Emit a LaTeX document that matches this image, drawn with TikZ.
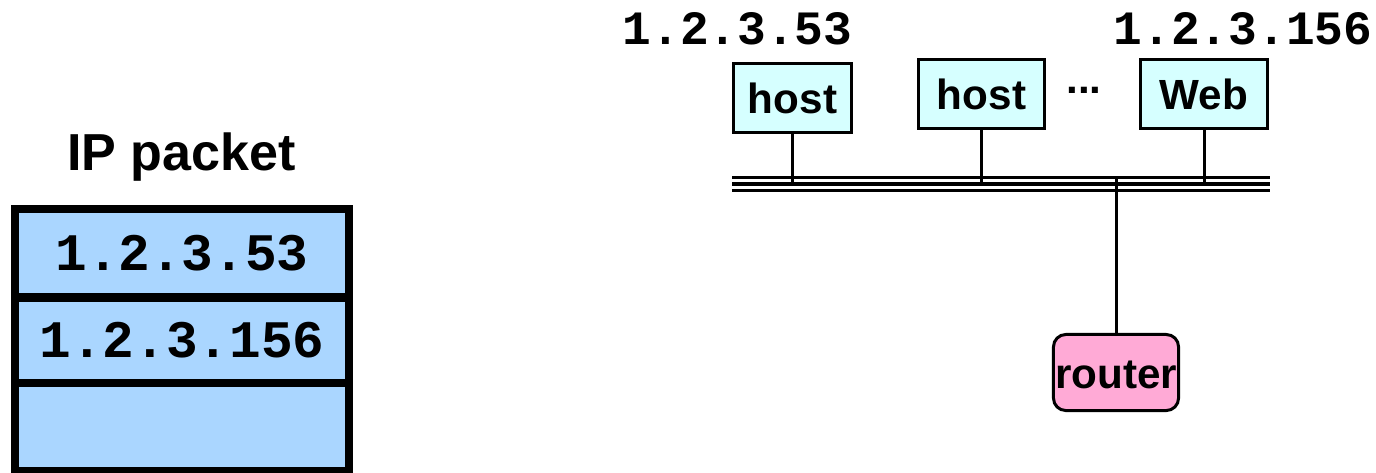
\documentclass[tikz,border=0pt]{standalone}
\usepackage{fontspec}
\setmainfont{Liberation Sans}
\newfontfamily\addrfont{Liberation Mono}
\usetikzlibrary{positioning}
\definecolor{packetblue}{RGB}{170,214,255}
\definecolor{hostcyan}{RGB}{214,255,255}
\definecolor{routerpink}{RGB}{255,170,214}
\tikzset{
    %Define style for host boxes
    hostbox/.style={
           rectangle,
           draw=black, line width=0.85pt,
           fill=hostcyan,
           minimum height=0.69cm,
           inner sep=0pt,
           text height=0.9em,
           text centered,
           font=\fontsize{12}{14}\selectfont\bfseries},
    %Define style for the router
    routerbox/.style={
           rectangle,
           rounded corners=3.5pt,
           draw=black, line width=0.85pt,
           fill=routerpink,
           minimum width=1.25cm,
           minimum height=0.76cm,
           inner sep=0pt,
           text height=0.9em,
           font=\fontsize{12}{14}\selectfont\bfseries},
    %Define style for the packet fields
    pktfield/.style={
           rectangle,
           draw=black, line width=2.3pt,
           fill=packetblue,
           minimum width=3.34cm,
           inner sep=0pt, outer sep=0pt,
           font=\fontsize{15}{18}\selectfont\addrfont\bfseries},
    % addresses over the hosts
    addr/.style={font=\fontsize{13.6}{16}\selectfont\addrfont\bfseries},
    % Define style for wires
    wire/.style={line width=0.85pt}
}
\begin{document}
\begin{tikzpicture}[x=0.01cm,y=-0.01cm]
\useasboundingbox (0,0) rectangle (1376,472);

 %packet
\node[font=\fontsize{14.8}{17}\selectfont\bfseries, anchor=base] (title) at (181.5,170) {IP packet};
\node[pktfield, minimum height=0.885cm] (f1) at (182,253.25) {1.2.3.53};
\node[pktfield, minimum height=0.85cm, below=0pt of f1] (f2) {1.2.3.156};
\node[pktfield, minimum height=0.88cm, below=0pt of f2] (f3) {};

 %bus
\coordinate (bustop) at (732,177.5);
\coordinate (busL) at (732,184);
\coordinate (busR) at (1270,184);
\coordinate (busbot) at (732,190.5);
\draw[line width=0.7pt] (bustop) -- (bustop -| busR);
\draw[line width=1.3pt] (busL) -- (busR);
\draw[line width=0.7pt] (busbot) -- (busbot -| busR);

 %nodes
\node[hostbox, minimum width=1.18cm] (h1) at (792.5,98) {host};
\node[hostbox, minimum width=1.26cm] (h2) at (981.5,94) {host};
\node[hostbox, minimum width=1.27cm] (web) at (1204,94) {Web};
\node[font=\fontsize{12}{14}\selectfont\bfseries, inner sep=0pt] (dots) at (1084,90.5) {...};
\node[routerbox] (router) at (1116,372.5) {router};

\node[addr, inner sep=0pt] (a1) at (737.5,28.5) {1.2.3.53};
\node[addr, inner sep=0pt] (a2) at (1243,29) {1.2.3.156};

 \draw[wire] (h1.south) -- (h1.south |- busL);
 \draw[wire] (h2.south) -- (h2.south |- busL);
 \draw[wire] (web.south) -- (web.south |- busL);
 \draw[wire] (router.north) -- (router.north |- bustop);

\end{tikzpicture}
\end{document}
